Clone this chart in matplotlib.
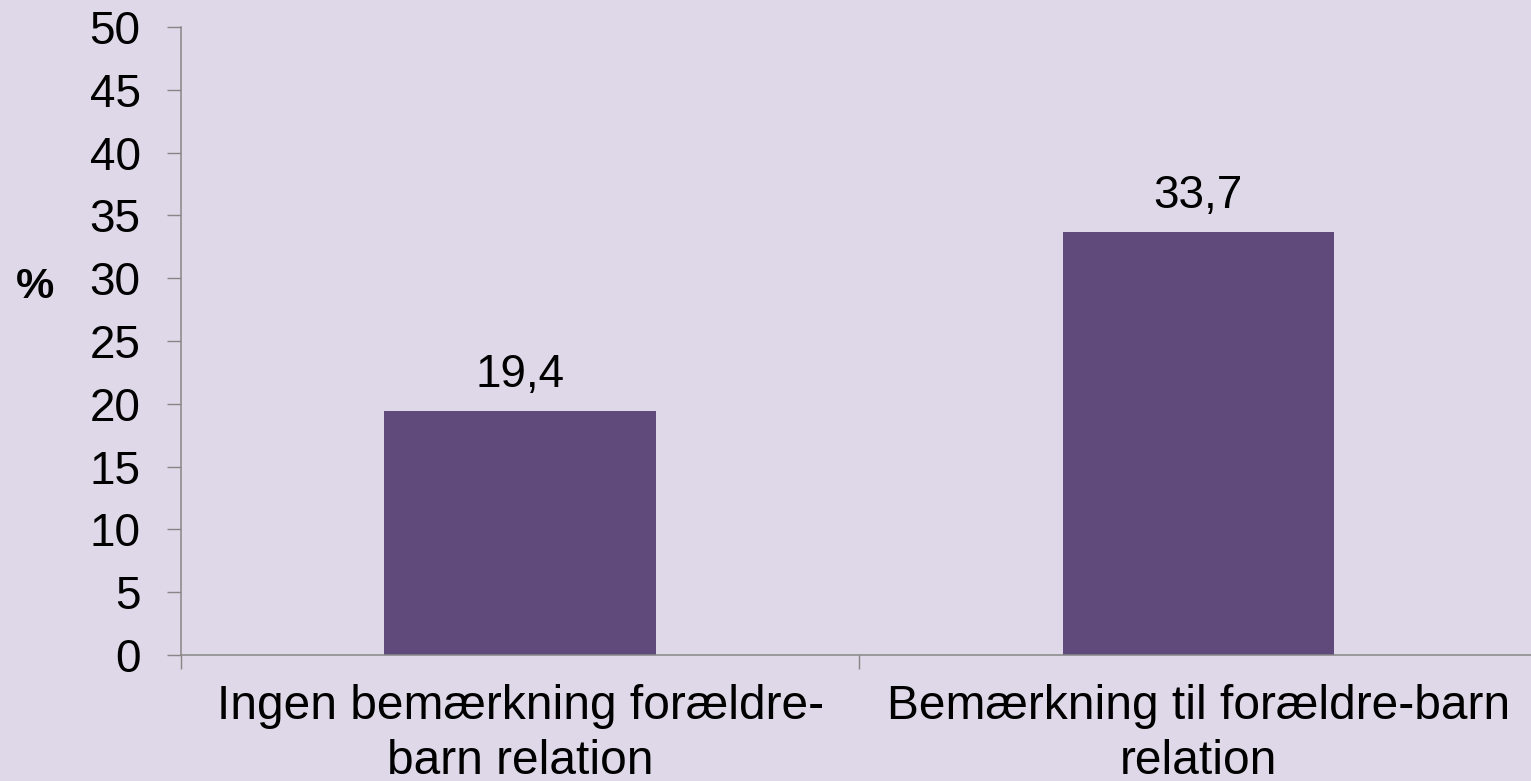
import matplotlib
matplotlib.use("Agg")
import matplotlib.pyplot as plt
from matplotlib.ticker import FixedLocator

categories = ["Ingen bemærkning forældre-\nbarn relation", "Bemærkning til forældre-barn\nrelation"]
values = [19.4, 33.7]
value_labels = ["19,4", "33,7"]
yticks = [0, 5, 10, 15, 20, 25, 30, 35, 40, 45, 50]

bg = "#DFD8E8"
bar_color = "#604A7B"
axis_color = "#868686"

plt.rcParams['font.family'] = ['Liberation Sans', 'DejaVu Sans']

fig = plt.figure(figsize=(15.31, 7.81), dpi=100, facecolor=bg)
ax = fig.add_axes([0.1182, 0.1613, 0.886, 0.8041], facecolor=bg)

x = list(range(len(categories)))
ax.bar(x, values, width=0.4, color=bar_color, zorder=2)
for xi, v, lab in zip(x, values, value_labels):
    ax.text(xi, v + 1.9, lab, ha="center", va="baseline", fontsize=33, color="black")

ax.set_xlim(-0.5, 1.5)
ax.set_ylim(0, 50)
ax.set_yticks(yticks)
ax.set_yticklabels([str(t) for t in yticks], fontsize=33)
ax.set_xticks(x)
ax.set_xticklabels(categories, fontsize=34.5, linespacing=1.27)
ax.xaxis.set_minor_locator(FixedLocator([-0.5, 0.5, 1.5]))
ax.tick_params(axis="x", which="major", length=0, pad=21)
ax.tick_params(axis="x", which="minor", length=10, width=1, color=axis_color, direction="out")
ax.tick_params(axis="y", which="major", length=10, width=1, color=axis_color, direction="out", pad=19)

for s in ["top", "right"]:
    ax.spines[s].set_visible(False)
for s in ["left", "bottom"]:
    ax.spines[s].set_color(axis_color)
    ax.spines[s].set_linewidth(1.1)

fig.text(0.0229, 0.632, "%", fontsize=31, fontweight="bold", ha="center", va="center")

fig.savefig("out.png", dpi=100, facecolor=bg)
